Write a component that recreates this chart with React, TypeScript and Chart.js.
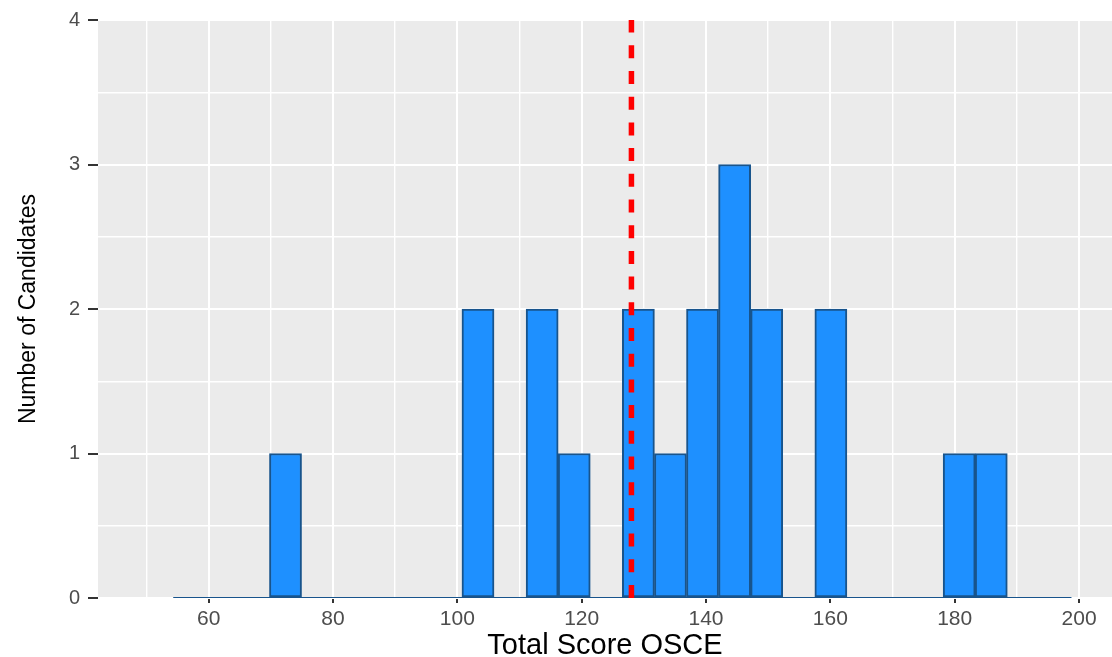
import React, { useEffect, useRef } from "react";
import { Chart, registerables } from "chart.js";

Chart.register(...registerables);

// Histogram of total OSCE scores
const binStart = 54.3; // lower edge of first bin
const binWidth = 5.16;
const counts = [0, 0, 0, 1, 0, 0, 0, 0, 0, 2, 0, 2, 1, 0, 2, 1, 2, 3, 2, 0, 2, 0, 0, 0, 1, 1, 0, 0];
const meanLine = 128.0;
const xMin = 42.2;
const xMax = 205.3;
const yMin = 0;
const yMax = 4;
const xMajorTicks = [60, 80, 100, 120, 140, 160, 180, 200];
const yMajorTicks = [0, 1, 2, 3, 4];
const xTitle = "Total Score OSCE";
const yTitle = "Number of Candidates";

const FONT = "'Liberation Sans', Arial, Helvetica, sans-serif";

const bgPlugin = {
  id: "panelBg",
  beforeDraw(chart: any) {
    const { ctx, chartArea } = chart;
    ctx.save();
    ctx.fillStyle = "#EBEBEB";
    ctx.fillRect(chartArea.left, chartArea.top, chartArea.right - chartArea.left, chartArea.bottom - chartArea.top);
    ctx.restore();
  },
};

export default function App() {
  const ref = useRef<HTMLCanvasElement | null>(null);

  useEffect(() => {
    if (!ref.current) return;
    const bars = counts.map((c, i) => ({ x: binStart + binWidth * (i + 0.5), y: c }));
    const baseline = [
      { x: binStart, y: 0 },
      { x: binStart + binWidth * counts.length, y: 0 },
    ];
    const vline = [
      { x: meanLine, y: yMin },
      { x: meanLine, y: yMax },
    ];
    const isMajorX = (v: number) => xMajorTicks.includes(Math.round(v * 1000) / 1000);
    const isMajorY = (v: number) => yMajorTicks.includes(Math.round(v * 1000) / 1000);

    const chart = new Chart(ref.current, {
      type: "bar",
      data: {
        datasets: [
          {
            type: "line",
            data: vline,
            borderColor: "#FF0000",
            borderWidth: 5.5,
            borderDash: [13, 12.7],
            pointRadius: 0,
            fill: false,
            order: 0,
          } as any,
          {
            type: "bar",
            data: bars,
            backgroundColor: "#1E90FF",
            borderColor: "#18548C",
            borderWidth: 2,
            borderSkipped: false,
            barPercentage: 1,
            categoryPercentage: 1,
            order: 1,
          } as any,
          {
            type: "line",
            data: baseline,
            borderColor: "#18548C",
            borderWidth: 2,
            pointRadius: 0,
            fill: false,
            order: 2,
          } as any,
        ],
      },
      options: {
        animation: false,
        responsive: true,
        maintainAspectRatio: false,
        layout: { padding: { top: 20, left: 0, right: 0, bottom: 0 } },
        plugins: {
          legend: { display: false },
          tooltip: { enabled: false },
        },
        scales: {
          x: {
            type: "linear",
            min: xMin,
            max: xMax,
            offset: false,
            afterFit: (scale: any) => {
              scale.height = 59;
            },
            ticks: {
              stepSize: 10,
              includeBounds: false,
              autoSkip: false,
              maxRotation: 0,
              padding: 4,
              color: "#4D4D4D",
              font: { family: FONT, size: 21 },
              callback: (v: any) => (isMajorX(Number(v)) ? String(v) : ""),
            },
            grid: {
              offset: false,
              color: "#FFFFFF",
              lineWidth: (c: any) => (isMajorX(c.tick?.value) ? 2 : 1.4),
              tickColor: (c: any) => (isMajorX(c.tick?.value) ? "#333333" : "rgba(0,0,0,0)"),
              tickWidth: 2,
              tickLength: 5,
              drawTicks: true,
            },
            border: { display: false },
            title: {
              display: true,
              text: xTitle,
              color: "#000000",
              font: { family: FONT, size: 29, lineHeight: 0.8 },
              padding: { top: 0, bottom: -1 },
            },
          },
          y: {
            type: "linear",
            min: yMin,
            max: yMax,
            afterFit: (scale: any) => {
              scale.width = 98;
            },
            ticks: {
              stepSize: 0.5,
              autoSkip: false,
              padding: 8,
              color: "#4D4D4D",
              font: { family: FONT, size: 20 },
              callback: (v: any) => (isMajorY(Number(v)) ? String(v) : ""),
            },
            grid: {
              color: "#FFFFFF",
              lineWidth: (c: any) => (isMajorY(c.tick?.value) ? 2 : 1.4),
              tickColor: (c: any) => (isMajorY(c.tick?.value) ? "#333333" : "rgba(0,0,0,0)"),
              tickWidth: 2,
              tickLength: 10,
              drawTicks: true,
            },
            border: { display: false },
            title: {
              display: true,
              text: yTitle,
              color: "#000000",
              font: { family: FONT, size: 23, lineHeight: 1.2 },
              padding: { top: 15, bottom: 0 },
            },
          },
        },
      },
      plugins: [bgPlugin],
    });
    return () => chart.destroy();
  }, []);

  return (
    <div style={{ position: "fixed", left: 0, top: 0, width: 1112, height: 657, background: "#FFFFFF" }}>
      <canvas ref={ref} />
    </div>
  );
}
